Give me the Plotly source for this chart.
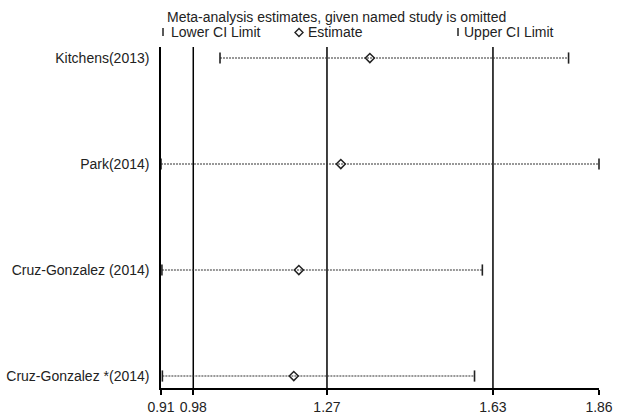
import plotly.graph_objects as go

studies = ["Kitchens(2013)", "Park(2014)", "Cruz-Gonzalez (2014)", "Cruz-Gonzalez *(2014)"]
estimate = [1.363, 1.300, 1.209, 1.198]
lower = [1.038, 0.910, 0.912, 0.913]
upper = [1.794, 1.860, 1.607, 1.590]

overall_lower = 0.98
overall_est = 1.27
overall_upper = 1.63
x_min = 0.91
x_max = 1.86
tick_vals = [0.91, 0.98, 1.27, 1.63, 1.86]
tick_text = ["0.91", "0.98", "1.27", "1.63", "1.86"]

FONT = "Liberation Sans, Arial, sans-serif"
INK = "#222222"

fig = go.Figure()

# dotted CI lines
for s, lo, hi in zip(studies, lower, upper):
    fig.add_trace(go.Scatter(
        x=[lo, hi], y=[s, s], mode="lines",
        line=dict(color="#333333", width=1.2, dash="2px,1px"),
        showlegend=False, hoverinfo="skip", cliponaxis=False))

# CI caps
fig.add_trace(go.Scatter(
    x=lower + upper, y=studies + studies, mode="markers",
    marker=dict(symbol="line-ns", size=8, line=dict(color=INK, width=1.6)),
    showlegend=False, cliponaxis=False))

# estimates
fig.add_trace(go.Scatter(
    x=estimate, y=studies, mode="markers",
    marker=dict(symbol="diamond-open", size=7, color=INK, line=dict(color=INK, width=1.5)),
    showlegend=False, cliponaxis=False))

# reference vertical lines
for v in [overall_lower, overall_est, overall_upper]:
    fig.add_shape(type="line", xref="x", yref="paper", x0=v, x1=v, y0=0, y1=1,
                  line=dict(color="black", width=1.5), layer="below")

L, R, T, B = 161, 20, 47, 27
W, H = 619, 415
pw, ph = W - L - R, H - T - B

def px(x):
    return (x - L) / pw

def py(y):
    return (H - B - y) / ph

# legend header
fig.add_annotation(text="Meta-analysis estimates, given named study is omitted",
                   xref="paper", yref="paper", x=px(165), y=py(17),
                   xanchor="left", yanchor="middle", showarrow=False,
                   font=dict(family=FONT, size=14, color=INK))
fig.add_annotation(text="Lower CI Limit", xref="paper", yref="paper",
                   x=px(169), y=py(32), xanchor="left", yanchor="middle",
                   showarrow=False, font=dict(family=FONT, size=14, color=INK))
fig.add_annotation(text="Estimate", xref="paper", yref="paper",
                   x=px(306), y=py(32), xanchor="left", yanchor="middle",
                   showarrow=False, font=dict(family=FONT, size=14, color=INK))
fig.add_annotation(text="Upper CI Limit", xref="paper", yref="paper",
                   x=px(462), y=py(32), xanchor="left", yanchor="middle",
                   showarrow=False, font=dict(family=FONT, size=14, color=INK))
for bx in [163, 458]:
    fig.add_shape(type="line", xref="paper", yref="paper",
                  x0=px(bx), x1=px(bx), y0=py(36), y1=py(28),
                  line=dict(color=INK, width=1.5))
cx, cy, r = 299, 32.5, 4
fig.add_shape(type="path", xref="paper", yref="paper",
              path=f"M {px(cx - r)},{py(cy)} L {px(cx)},{py(cy - r)} L {px(cx + r)},{py(cy)} L {px(cx)},{py(cy + r)} Z",
              line=dict(color=INK, width=1.4), fillcolor="rgba(0,0,0,0)")

fig.update_layout(
    width=W, height=H,
    margin=dict(l=L, r=R, t=T, b=B, autoexpand=False),
    paper_bgcolor="white", plot_bgcolor="white",
    font=dict(family=FONT, size=14, color=INK),
    xaxis=dict(range=[x_min, x_max], tickvals=tick_vals, ticktext=tick_text,
               showgrid=False, zeroline=False, showline=True, linecolor="black",
               linewidth=1.5, ticks="outside", ticklen=5, tickwidth=1.5,
               tickcolor="black", automargin=False,
               tickfont=dict(family=FONT, size=14, color=INK)),
    yaxis=dict(type="category", categoryorder="array", categoryarray=studies,
               range=[3.113, -0.104], showgrid=False, zeroline=False,
               showline=True, linecolor="black", linewidth=1.5, ticks="",
               automargin=False, ticklabelstandoff=7,
               tickfont=dict(family=FONT, size=14, color=INK)),
    showlegend=False,
)

fig.write_html("out.html", config={"displayModeBar": False},
               post_script="document.body.style.margin='0px';document.body.style.overflow='hidden';")
